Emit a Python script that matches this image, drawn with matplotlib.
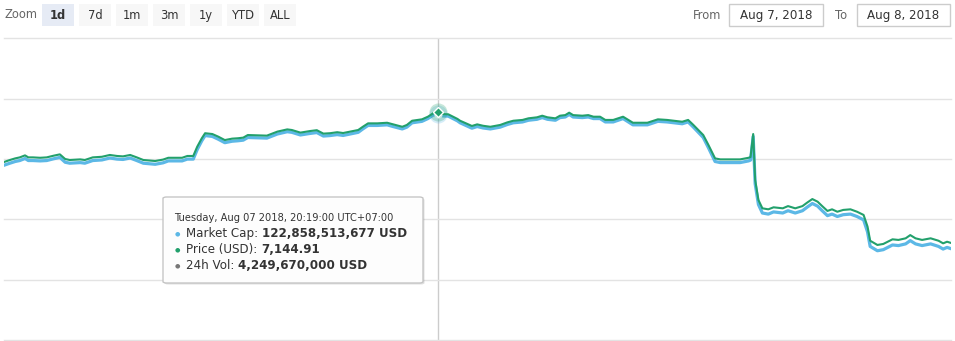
import matplotlib
matplotlib.use("Agg")
import matplotlib.pyplot as plt
from matplotlib.patches import FancyBboxPatch, Rectangle
import pandas as pd

# ---------------------------------------------------------------------
# data (Aug 7 -> Aug 8 2018, UTC+07:00)
times = [
    "08-07 09:19", "08-07 09:28", "08-07 09:36", "08-07 09:43", "08-07 09:51",
    "08-07 09:56", "08-07 10:03", "08-07 10:14", "08-07 10:24", "08-07 10:34",
    "08-07 10:44", "08-07 10:52", "08-07 10:59", "08-07 11:15", "08-07 11:22",
    "08-07 11:34", "08-07 11:48", "08-07 12:00", "08-07 12:11", "08-07 12:20",
    "08-07 12:31", "08-07 12:41", "08-07 12:51", "08-07 13:09", "08-07 13:21",
    "08-07 13:29", "08-07 13:50", "08-07 13:58", "08-07 14:07", "08-07 14:13",
    "08-07 14:20", "08-07 14:25", "08-07 14:36", "08-07 14:45", "08-07 14:55",
    "08-07 15:06", "08-07 15:15", "08-07 15:23", "08-07 15:30", "08-07 15:59",
    "08-07 16:15", "08-07 16:30", "08-07 16:37", "08-07 16:50", "08-07 17:05",
    "08-07 17:15", "08-07 17:25", "08-07 17:35", "08-07 17:46", "08-07 17:55",
    "08-07 18:06", "08-07 18:18", "08-07 18:25", "08-07 18:33", "08-07 18:47",
    "08-07 19:02", "08-07 19:11", "08-07 19:25", "08-07 19:32", "08-07 19:40",
    "08-07 19:55", "08-07 20:04", "08-07 20:12", "08-07 20:19", "08-07 20:27",
    "08-07 20:35", "08-07 20:49", "08-07 20:53", "08-07 21:04", "08-07 21:11",
    "08-07 21:19", "08-07 21:28", "08-07 21:39", "08-07 21:54", "08-07 22:05",
    "08-07 22:14", "08-07 22:28", "08-07 22:37", "08-07 22:50", "08-07 22:58",
    "08-07 23:06", "08-07 23:18", "08-07 23:25", "08-07 23:33", "08-07 23:39",
    "08-07 23:45", "08-07 23:59", "08-08 00:08", "08-08 00:16", "08-08 00:26",
    "08-08 00:34", "08-08 00:46", "08-08 01:01", "08-08 01:09", "08-08 01:16",
    "08-08 01:38", "08-08 01:54", "08-08 02:08", "08-08 02:31", "08-08 02:40",
    "08-08 02:48", "08-08 03:03", "08-08 03:11", "08-08 03:21", "08-08 03:29",
    "08-08 03:59", "08-08 04:12", "08-08 04:15", "08-08 04:19", "08-08 04:22",
    "08-08 04:27", "08-08 04:33", "08-08 04:42", "08-08 04:50", "08-08 05:04",
    "08-08 05:12", "08-08 05:23", "08-08 05:34", "08-08 05:41", "08-08 05:49",
    "08-08 05:57", "08-08 06:04", "08-08 06:12", "08-08 06:19", "08-08 06:27",
    "08-08 06:36", "08-08 06:47", "08-08 06:57", "08-08 07:07", "08-08 07:13",
    "08-08 07:17", "08-08 07:28", "08-08 07:37", "08-08 07:51", "08-08 08:00",
    "08-08 08:11", "08-08 08:18", "08-08 08:26", "08-08 08:36", "08-08 08:49",
    "08-08 09:01", "08-08 09:08", "08-08 09:14", "08-08 09:19",
]

price_usd = [
    6898, 6908, 6916, 6921, 6931, 6921, 6921, 6919, 6921, 6929,
    6936, 6913, 6908, 6911, 6908, 6921, 6924, 6933, 6928, 6926,
    6933, 6921, 6908, 6903, 6910, 6919, 6919, 6928, 6928, 6974,
    7016, 7041, 7037, 7024, 7007, 7014, 7016, 7019, 7032, 7029,
    7049, 7060, 7057, 7044, 7052, 7056, 7039, 7041, 7046, 7042,
    7049, 7057, 7073, 7090, 7090, 7093, 7085, 7073, 7082, 7103,
    7110, 7123, 7140, 7144.91, 7136, 7135, 7112, 7103, 7087, 7077,
    7085, 7078, 7073, 7082, 7095, 7103, 7107, 7115, 7120, 7128,
    7120, 7115, 7128, 7131, 7143, 7131, 7128, 7131, 7123, 7123,
    7107, 7107, 7123, 7107, 7093, 7093, 7110, 7107, 7098, 7107,
    7082, 7032, 6982, 6916, 6911, 6911, 6919, 6923, 7037, 6809,
    6709, 6668, 6663, 6673, 6668, 6679, 6668, 6679, 6696, 6714,
    6701, 6679, 6655, 6663, 6651, 6660, 6663, 6651, 6635, 6577,
    6507, 6486, 6491, 6514, 6511, 6519, 6535, 6519, 6511, 6519,
    6507, 6494, 6502, 6497,
]

# market cap, billions USD
market_cap_bn = [
    118.62, 118.79, 118.93, 119.01, 119.18, 119.01, 119.01, 118.98, 119.01, 119.15,
    119.27, 118.87, 118.79, 118.84, 118.79, 119.01, 119.06, 119.22, 119.13, 119.10,
    119.22, 119.01, 118.79, 118.70, 118.82, 118.98, 118.98, 119.13, 119.13, 119.92,
    120.65, 121.08, 121.01, 120.78, 120.49, 120.61, 120.65, 120.70, 120.92, 120.87,
    121.21, 121.40, 121.35, 121.13, 121.26, 121.33, 121.04, 121.08, 121.16, 121.09,
    121.21, 121.35, 121.63, 121.92, 121.92, 121.97, 121.83, 121.63, 121.78, 122.14,
    122.26, 122.49, 122.78, 122.86, 122.71, 122.69, 122.30, 122.14, 121.87, 121.69,
    121.83, 121.71, 121.63, 121.78, 122.00, 122.14, 122.21, 122.35, 122.43, 122.57,
    122.43, 122.35, 122.57, 122.62, 122.83, 122.62, 122.57, 122.62, 122.49, 122.49,
    122.21, 122.21, 122.49, 122.21, 121.97, 121.97, 122.26, 122.21, 122.06, 122.21,
    121.78, 120.92, 120.06, 118.93, 118.84, 118.84, 118.98, 119.05, 121.01, 117.08,
    115.36, 114.66, 114.57, 114.75, 114.66, 114.85, 114.66, 114.85, 115.14, 115.45,
    115.23, 114.85, 114.44, 114.57, 114.37, 114.52, 114.57, 114.37, 114.09, 113.09,
    111.89, 111.53, 111.62, 112.01, 111.96, 112.10, 112.37, 112.10, 111.96, 112.10,
    111.89, 111.67, 111.81, 111.72,
]

zoom_buttons = ["1d", "7d", "1m", "3m", "1y", "YTD", "ALL"]
date_from = "Aug 7, 2018"
date_to = "Aug 8, 2018"

hover_time = "08-07 20:19"
hover_title = "Tuesday, Aug 07 2018, 20:19:00 UTC+07:00"
hover_rows = [
    ("Market Cap:", "122,858,513,677 USD"),
    ("Price (USD):", "7,144.91"),
    ("24h Vol:", "4,249,670,000 USD"),
]
# ---------------------------------------------------------------------
W, H = 955, 341
BLUE = "#5cb8e6"
GREEN = "#22a06c"
GREY_TXT = "#333333"

plt.rcParams["font.family"] = ["DejaVu Sans"]

fig = plt.figure(figsize=(W / 100, H / 100), dpi=100)
fig.patch.set_facecolor("white")


def fx(x):
    return x / W


def fy(y):
    return 1 - y / H


t = pd.to_datetime(["2018-" + s for s in times])
t_hover = pd.to_datetime("2018-" + hover_time)
i_hover = times.index(hover_time)

# plot area: pixel x 4..951, y 38.5..340
ax = fig.add_axes([fx(4), fy(340), (951 - 4) / W, (340 - 38.5) / H])
ax2 = ax.twinx()

for a in (ax, ax2):
    for sp in a.spines.values():
        sp.set_visible(False)
    a.tick_params(left=False, right=False, bottom=False,
                  labelleft=False, labelright=False, labelbottom=False)
    a.patch.set_visible(False)

p_lo, p_hi = 6013.9, 7511.5
m_lo, m_hi = 104.13, 129.13
ax2.set_ylim(p_lo, p_hi)
ax.set_ylim(m_lo, m_hi)
ax.set_yticks([m_lo + k * (m_hi - m_lo) / 5 for k in range(6)])
ax.grid(True, axis="y", color="#e3e3e3", lw=1)
ax.grid(False, axis="x")
for gl in ax.get_ygridlines():
    gl.set_clip_on(False)
ax.set_xlim(pd.to_datetime("2018-08-07 09:19"), pd.to_datetime("2018-08-08 09:20"))

ax.axvline(t_hover, color="#cccccc", lw=1, zorder=1)
ax.plot(t, market_cap_bn, color=BLUE, lw=2.3, solid_joinstyle="round", zorder=3)
ax2.plot(t, price_usd, color=GREEN, lw=1.5, solid_joinstyle="round", zorder=3)

# hover halos + markers
ax.plot(t_hover, market_cap_bn[i_hover], "o", ms=13, color=BLUE, alpha=0.25,
        mec="none", zorder=4)
ax.plot(t_hover, market_cap_bn[i_hover], "o", ms=5, color=BLUE, mec="white",
        mew=1, zorder=5)
ax2.plot(t_hover, price_usd[i_hover], "o", ms=13, color=GREEN, alpha=0.25,
         mec="none", zorder=4)
ax2.plot(t_hover, price_usd[i_hover], "D", ms=5, color=GREEN, mec="white",
         mew=1, zorder=5)

# range selector -------------------------------------------------------
fig.text(fx(4), fy(15), "Zoom", fontsize=8.3, color="#666666", va="center")
for k, lab in enumerate(zoom_buttons):
    x0 = 42 + k * 37
    sel = k == 0
    fig.patches.append(Rectangle((fx(x0), fy(26)), 32 / W, 22 / H,
                                 transform=fig.transFigure,
                                 facecolor="#e6ebf5" if sel else "#f7f7f7",
                                 edgecolor="none"))
    fig.text(fx(x0 + 16), fy(15.5), lab, fontsize=8.3, color=GREY_TXT,
             ha="center", va="center", weight="bold" if sel else "normal")

fig.text(fx(693), fy(15.5), "From", fontsize=8.3, color="#666666", va="center")
fig.text(fx(835), fy(15.5), "To", fontsize=8.3, color="#666666", va="center")
for x0, x1, lab in [(729, 823, date_from), (857, 950, date_to)]:
    fig.patches.append(Rectangle((fx(x0), fy(26)), (x1 - x0) / W, 22 / H,
                                 transform=fig.transFigure, facecolor="white",
                                 edgecolor="#cccccc", lw=1))
    fig.text(fx((x0 + x1) / 2), fy(15.5), lab, fontsize=8.6, color=GREY_TXT,
             ha="center", va="center")

# tooltip --------------------------------------------------------------
bx0, by0, bx1, by1 = 163, 197, 423, 283
fig.patches.append(FancyBboxPatch((fx(bx0 + 1.5), fy(by1 + 1.5)),
                                  (bx1 - bx0) / W, (by1 - by0) / H,
                                  boxstyle="round,pad=0,rounding_size=0.004",
                                  transform=fig.transFigure, facecolor="#000000",
                                  edgecolor="none", alpha=0.12, zorder=9))
fig.patches.append(FancyBboxPatch((fx(bx0), fy(by1)), (bx1 - bx0) / W,
                                  (by1 - by0) / H,
                                  boxstyle="round,pad=0,rounding_size=0.004",
                                  transform=fig.transFigure, facecolor="white",
                                  edgecolor="#c4c4c4", lw=1, alpha=0.97,
                                  zorder=10))
fig.text(fx(174), fy(218), hover_title, fontsize=7.1, color=GREY_TXT,
         va="center", zorder=11)

renderer = fig.canvas.get_renderer()
bullet_cols = [BLUE, GREEN, "#777777"]
for k, (lab, val) in enumerate(hover_rows):
    yy = 233.5 + k * 16
    fig.text(fx(177), fy(yy), "\u25cf", fontsize=4.5, color=bullet_cols[k],
             ha="center", va="center", zorder=11)
    tl = fig.text(fx(186), fy(yy), lab, fontsize=8.6, color=GREY_TXT,
                  va="center", zorder=11)
    bb = tl.get_window_extent(renderer)
    fig.text((bb.x1 + 3.5) / W, fy(yy), val, fontsize=8.6, color=GREY_TXT,
             weight="bold", va="center", zorder=11)

fig.savefig("out.png", dpi=100, facecolor="white")
